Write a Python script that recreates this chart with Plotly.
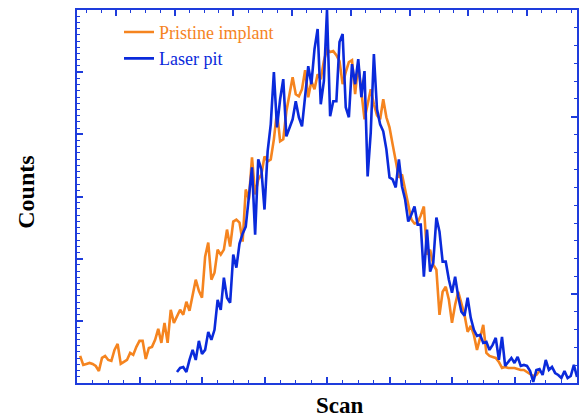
import plotly.graph_objects as go

# Scan index positions
pristine_x = list(range(1, 149))
pristine_counts = [
    27, 18, 19, 20, 19, 17, 12, 25, 27, 23,
    22, 33, 39, 19, 21, 23, 30, 28, 36, 42,
    42, 24, 35, 36, 43, 54, 40, 60, 40, 73,
    60, 66, 73, 68, 81, 72, 86, 103, 92, 85,
    126, 140, 103, 110, 133, 128, 133, 153, 136, 161,
    163, 160, 141, 193, 183, 225, 188, 203, 208, 226,
    221, 223, 243, 271, 241, 243, 271, 288, 305, 288,
    286, 293, 312, 285, 301, 293, 308, 303, 321, 333,
    330, 331, 327, 321, 298, 310, 320, 322, 288, 318,
    288, 263, 278, 293, 278, 267, 263, 283, 265, 255,
    238, 221, 205, 208, 193, 176, 163, 159, 160, 167,
    176, 128, 133, 118, 113, 68, 91, 96, 83, 60,
    78, 91, 78, 68, 51, 57, 48, 33, 45, 58,
    30, 27, 26, 25, 21, 15, 16, 15, 15, 15,
    14, 13, 13, 11, 9, 7, 8, 12,
]

laser_x = list(range(32, 161))
laser_counts = [
    11, 15, 16, 11, 23, 33, 23, 42, 29, 33,
    51, 43, 53, 83, 73, 105, 85, 80, 128, 115,
    139, 149, 156, 183, 215, 148, 223, 213, 173, 231,
    258, 310, 255, 283, 303, 246, 255, 263, 281, 265,
    256, 290, 316, 298, 333, 353, 278, 301, 372, 266,
    281, 281, 340, 348, 275, 265, 318, 298, 323, 285,
    311, 206, 250, 328, 273, 258, 251, 233, 205, 203,
    195, 223, 196, 183, 161, 168, 176, 158, 158, 106,
    153, 111, 120, 165, 151, 121, 121, 103, 90, 106,
    86, 71, 67, 85, 65, 53, 47, 48, 40, 41,
    33, 38, 45, 23, 46, 17, 21, 25, 20, 26,
    17, 18, 17, 12, 1, 13, 14, 8, 23, 13,
    16, 10, 8, 5, 12, 5, 7, 18, 6,
]

series_names = ["Pristine implant", "Laser pit"]
orange = "#F5841F"
blue = "#0A2ADB"
frame = "#1E3CDC"

fig = go.Figure()
fig.add_trace(go.Scatter(
    x=pristine_x, y=pristine_counts, mode="lines",
    line=dict(color=orange, width=2.6),
    name=f"<span style='color:{orange}'>{series_names[0]}</span>",
))
fig.add_trace(go.Scatter(
    x=laser_x, y=laser_counts, mode="lines",
    line=dict(color=blue, width=2.6),
    name=f"<span style='color:{blue}'>{series_names[1]}</span>",
))
# empty trace to activate the secondary (top/right) axes
fig.add_trace(go.Scatter(x=[], y=[], xaxis="x2", yaxis="y2",
                         showlegend=False, hoverinfo="skip"))

tick_common = dict(
    showline=True, linecolor=frame, linewidth=2,
    ticks="inside", ticklen=6, tickwidth=1.5, tickcolor=frame,
    showticklabels=False, showgrid=False, zeroline=False,
)

fig.update_layout(
    width=579, height=418, autosize=False,
    margin=dict(l=77, r=2, t=10, b=35),
    paper_bgcolor="white", plot_bgcolor="white",
    font=dict(family="Liberation Serif", color="black"),
    xaxis=dict(range=[0, 160], dtick=20, tick0=0,
               minor=dict(ticks="inside", ticklen=3, tickwidth=1,
                          tickcolor=frame, dtick=5),
               **tick_common),
    yaxis=dict(range=[0, 372], dtick=62, tick0=0,
               minor=dict(ticks="inside", ticklen=3, tickwidth=1,
                          tickcolor=frame, dtick=6.2),
               **tick_common),
    xaxis2=dict(overlaying="x", side="top", anchor="y",
                range=[0, 8.51], dtick=1, tick0=0.663,
                minor=dict(ticks="inside", ticklen=3, tickwidth=1,
                           tickcolor=frame, dtick=0.25, tick0=0.663),
                **tick_common),
    yaxis2=dict(overlaying="y", side="right", anchor="x",
                range=[0, 2.1], dtick=1, tick0=0.5,
                minor=dict(ticks="inside", ticklen=3, tickwidth=1,
                           tickcolor=frame, dtick=0.1, tick0=0.5),
                **tick_common),
    legend=dict(x=0.084, y=0.99, xanchor="left", yanchor="top",
                bgcolor="rgba(0,0,0,0)", font=dict(size=18, family="Liberation Serif")),
    annotations=[
        dict(text="<b>Scan</b>", xref="paper", yref="paper",
             x=0.5255, y=-0.061, xanchor="center", yanchor="middle",
             showarrow=False, font=dict(size=23, family="Liberation Serif", color="black")),
        dict(text="<b>Counts</b>", xref="paper", yref="paper",
             x=-0.102, y=0.51, xanchor="center", yanchor="middle", textangle=-90,
             showarrow=False, font=dict(size=24, family="Liberation Serif", color="black")),
    ],
)

fig.write_html(
    "out.html",
    config={"responsive": False, "displayModeBar": False},
    post_script=(
        "document.body.style.margin='0';"
        "document.body.style.overflow='hidden';"
        "Plotly.relayout('{plot_id}', {width:579, height:418});"
    ),
)
